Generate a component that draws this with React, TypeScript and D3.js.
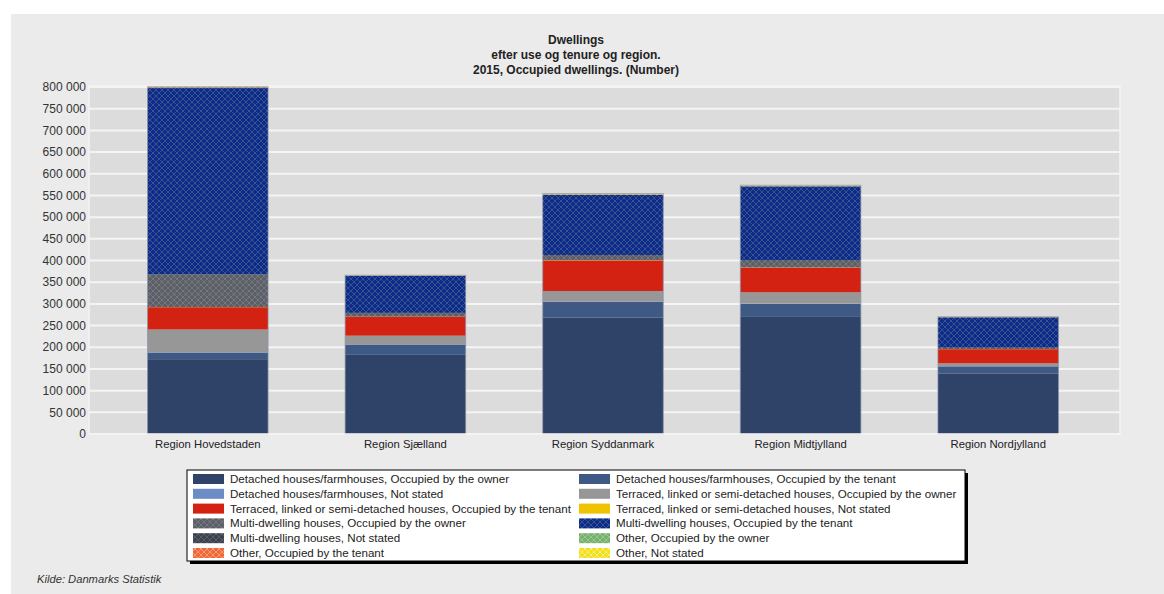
import React from "react";
import * as d3 from "d3";

const regions = ["Region Hovedstaden", "Region Sjælland", "Region Syddanmark", "Region Midtjylland", "Region Nordjylland"];

const seriesNames = [
  "Detached houses/farmhouses, Occupied by the owner",
  "Detached houses/farmhouses, Occupied by the tenant",
  "Detached houses/farmhouses, Not stated",
  "Terraced, linked or semi-detached houses, Occupied by the owner",
  "Terraced, linked or semi-detached houses, Occupied by the tenant",
  "Terraced, linked or semi-detached houses, Not stated",
  "Multi-dwelling houses, Occupied by the owner",
  "Multi-dwelling houses, Occupied by the tenant",
  "Multi-dwelling houses, Not stated",
  "Other, Occupied by the owner",
  "Other, Occupied by the tenant",
  "Other, Not stated",
];

// values per series, in region order
const detachedOwner = [172500, 182500, 268500, 270000, 139000];
const detachedTenant = [15000, 23500, 36000, 30000, 16800];
const detachedNotStated = [800, 700, 900, 800, 500];
const terracedOwner = [52800, 20000, 24300, 26000, 6800];
const terracedTenant = [51300, 43500, 70500, 57000, 32500];
const terracedNotStated = [400, 300, 500, 500, 300];
const multiOwner = [75700, 8800, 12000, 16800, 3000];
const multiTenant = [429000, 85000, 138500, 169500, 70000];
const multiNotStated = [1200, 500, 600, 600, 400];
const otherOwner = [600, 400, 500, 500, 300];
const otherTenant = [900, 500, 600, 600, 300];
const otherNotStated = [400, 300, 1500, 1200, 400];

const seriesValues = [
  detachedOwner, detachedTenant, detachedNotStated,
  terracedOwner, terracedTenant, terracedNotStated,
  multiOwner, multiTenant, multiNotStated,
  otherOwner, otherTenant, otherNotStated,
];

const yTicks = [0, 50000, 100000, 150000, 200000, 250000, 300000, 350000, 400000, 450000, 500000, 550000, 600000, 650000, 700000, 750000, 800000];

const titleLines = ["Dwellings", "efter use og tenure og region.", "2015, Occupied dwellings. (Number)"];

const colors = [
  "#2f4369", "#3f5985", "#6b8cc4",
  "#979797", "#d42212", "#f0c300",
  "#5c5f66", "#0b2c88", "#3d424e",
  "#78b16c", "#f0683a", "#f2e020",
];
const hatched = [false, false, false, false, false, false, true, true, true, true, true, true];
const hatchStroke = ["", "", "", "", "", "", "#767a84", "#3f5590", "#5a5f6c", "#9cc894", "#f8a07a", "#f8f080"];

const W = 1164, H = 594;
const plotL = 89, plotR = 1120, plotT = 86, plotB = 434;
const font = "Arial, 'Liberation Sans', sans-serif";

export default function App() {
  const table = regions.map((r, i) => {
    const o: any = { region: r };
    seriesNames.forEach((s, k) => (o[s] = seriesValues[k][i]));
    return o;
  });
  const stack = d3.stack<any>().keys(seriesNames)(table);

  const x = d3.scaleBand().domain(regions).range([109, 1097]).paddingInner(0.39).paddingOuter(0.195);
  const y = d3.scaleLinear().domain([0, 800000]).range([plotB, 87]);
  const fmt = (v: number) => d3.format(",")(v).replace(/,/g, " ");

  const legendX = 187, legendY = 470, legendW = 778, legendH = 91;
  const colX = [193, 579];
  const rowY = (r: number) => 479 + r * 14.8;

  return (
    <svg width={W} height={H} style={{ position: "absolute", left: 0, top: 0 }} fontFamily={font}>
      <defs>
        {seriesNames.map((s, k) =>
          hatched[k] ? (
            <pattern key={k} id={`hatch${k}`} width={6} height={6} patternUnits="userSpaceOnUse">
              <rect width={6} height={6} fill={colors[k]} />
              <path d="M0,0 L6,6 M6,0 L0,6" stroke={hatchStroke[k]} strokeWidth={0.9} />
            </pattern>
          ) : null
        )}
      </defs>
      <rect x={0} y={0} width={W} height={H} fill="#ffffff" />
      <rect x={11} y={14} width={W - 11} height={H - 14} fill="#ebebeb" />

      {titleLines.map((t, i) => (
        <text key={i} x={576} y={44 + i * 15} textAnchor="middle" fontSize={12} fontWeight="bold" fill="#222">
          {t}
        </text>
      ))}

      <rect x={plotL} y={plotT} width={plotR - plotL} height={plotB - plotT} fill="#dcdcdc" stroke="#f3f3f3" strokeWidth={1.5} />
      {yTicks.map((t) => (
        <g key={t}>
          {t > 0 && <line x1={plotL} x2={plotR} y1={y(t)} y2={y(t)} stroke="#f4f4f4" strokeWidth={2} />}
          <text x={86} y={y(t)} dy="0.35em" textAnchor="end" fontSize={12} fill="#333">
            {fmt(t)}
          </text>
        </g>
      ))}

      {stack.map((layer, k) => (
        <g key={k} fill={hatched[k] ? `url(#hatch${k})` : colors[k]}>
          {layer.map((d, i) => (
            <rect
              key={i}
              x={x(regions[i])}
              y={y(d[1])}
              width={x.bandwidth()}
              height={Math.max(0, y(d[0]) - y(d[1]))}
            />
          ))}
        </g>
      ))}
      {regions.map((r, i) => {
        const top = stack[stack.length - 1][i][1];
        return (
          <rect key={r} x={x(r)} y={y(top)} width={x.bandwidth()} height={y(0) - y(top)} fill="none" stroke="#8a93a8" strokeOpacity={0.7} strokeWidth={1} />
        );
      })}
      <line x1={plotL} x2={plotR} y1={plotB} y2={plotB} stroke="#f4f4f4" strokeWidth={1.5} />

      {regions.map((r) => (
        <text key={r} x={(x(r) as number) + x.bandwidth() / 2} y={444} dy="0.35em" textAnchor="middle" fontSize={11.3} fill="#222">
          {r}
        </text>
      ))}

      <rect x={legendX + 3} y={legendY + 3} width={legendW} height={legendH} fill="#000" />
      <rect x={legendX} y={legendY} width={legendW} height={legendH} fill="#fff" stroke="#000" strokeWidth={1} />
      {seriesNames.map((s, k) => {
        const col = k % 2;
        const row = Math.floor(k / 2);
        const cy = rowY(row);
        return (
          <g key={s}>
            <rect x={colX[col]} y={cy - 5} width={31} height={10} fill={hatched[k] ? `url(#hatch${k})` : colors[k]} />
            <text x={colX[col] + 37} y={cy} dy="0.35em" fontSize={11.6} fill="#222">
              {s}
            </text>
          </g>
        );
      })}

      <text x={37} y={579} dy="0.35em" fontSize={11.2} fontStyle="italic" fill="#333">
        Kilde: Danmarks Statistik
      </text>
    </svg>
  );
}
